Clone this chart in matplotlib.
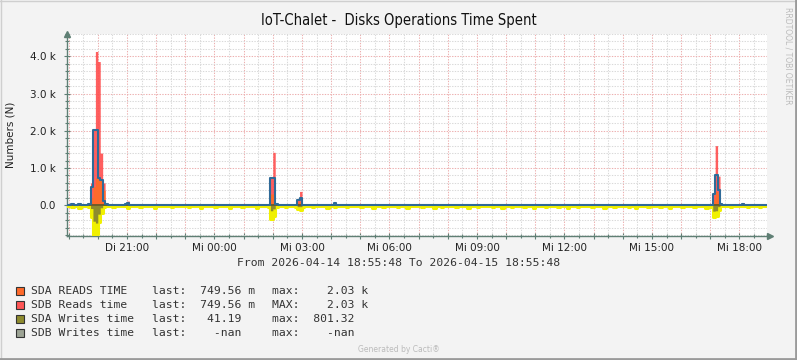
import numpy as np
import matplotlib.pyplot as plt
from matplotlib.patches import Rectangle
from matplotlib.lines import Line2D
from matplotlib.ticker import FixedLocator, FixedFormatter, MultipleLocator, FuncFormatter

# 5 minute samples, first one starts at 18:55 (graph starts 18:55:48)
n_samples = 288
step_h = 5 / 60.0
first_h = -0.8 / 60.0

# reads: only the non-zero samples (sample index -> value), rest is 0
read_idx = [2, 5, 9, 10, 11, 12, 13, 14, 15, 16, 24, 25, 84, 85, 86, 95, 96, 110, 266, 267, 268, 269, 270, 278]
sda_reads_line = [30, 30, 40, 500, 2030, 2030, 740, 690, 120, 20, 40, 60, 720, 720, 20, 150, 180, 50, 300, 820, 400, 30, 15, 40]
reads_stacked = [30, 30, 50, 600, 2060, 4130, 3860, 1400, 600, 50, 40, 110, 720, 1420, 40, 180, 370, 90, 300, 1600, 780, 50, 15, 70]
sda_reads_area = [10, 10, 20, 200, 500, 740, 740, 700, 400, 30, 20, 40, 300, 300, 10, 80, 100, 30, 150, 370, 300, 20, 5, 20]

# writes (drawn below zero)
sda_writes = [
    30, 25, 60, 25, 30, 70, 25, 30, 25, 60, 320, 801, 780, 450, 200, 40, 30, 25, 25, 60, 25, 30, 25, 30,
    25, 70, 30, 25, 25, 30, 60, 25, 25, 30, 25, 25, 70, 25, 30, 25, 25, 30, 25, 60, 25, 30, 25, 25,
    30, 25, 60, 25, 25, 30, 25, 70, 25, 30, 25, 25, 30, 60, 25, 25, 30, 25, 25, 70, 25, 30, 25, 25,
    60, 25, 30, 25, 25, 30, 70, 25, 25, 30, 25, 50, 360, 300, 40, 25, 30, 25, 60, 25, 25, 30, 60, 100,
    120, 40, 25, 30, 25, 60, 25, 30, 25, 25, 30, 70, 25, 30, 60, 25, 30, 25, 25, 60, 25, 30, 25, 25,
    30, 60, 25, 25, 30, 25, 70, 25, 30, 25, 60, 25, 25, 30, 25, 25, 60, 25, 30, 25, 70, 25, 25, 30,
    25, 25, 60, 30, 25, 25, 30, 70, 25, 25, 60, 25, 30, 25, 25, 30, 60, 25, 25, 30, 25, 70, 25, 30,
    25, 60, 25, 25, 30, 25, 25, 60, 30, 25, 25, 70, 25, 30, 25, 60, 25, 25, 30, 25, 60, 25, 30, 25,
    70, 25, 25, 30, 25, 60, 25, 30, 25, 25, 60, 25, 30, 25, 70, 25, 25, 30, 60, 25, 25, 30, 25, 25,
    60, 25, 30, 25, 25, 70, 25, 30, 25, 60, 25, 25, 30, 25, 25, 60, 25, 30, 70, 25, 25, 30, 25, 60,
    25, 30, 25, 25, 60, 25, 30, 25, 70, 25, 25, 30, 25, 60, 25, 25, 30, 25, 60, 25, 30, 25, 25, 70,
    25, 50, 330, 300, 120, 30, 25, 30, 25, 60, 25, 30, 25, 25, 30, 25, 60, 25, 30, 25, 25, 60, 25, 30,
]
writes_idx = [10, 11, 12, 13, 14, 84, 85, 95, 96, 266, 267, 268]
writes_avg = [90, 430, 480, 240, 70, 150, 100, 40, 40, 160, 150, 40]

# 19:00 is 0.07 h after the start
hour_ticks = np.arange(0.07, 24, 1.0)
half_ticks = np.arange(0.57, 24, 1.0)
tick_names = ['', '', 'Di 21:00', '', '', 'Mi 00:00', '', '', 'Mi 03:00', '', '', 'Mi 06:00',
              '', '', 'Mi 09:00', '', '', 'Mi 12:00', '', '', 'Mi 15:00', '', '', 'Mi 18:00']

legend_names = ['SDA READS TIME', 'SDB Reads time', 'SDA Writes time', 'SDB Writes time']
legend_last = ['last:  749.56 m', 'last:  749.56 m', 'last:   41.19', 'last:    -nan']
legend_max = ['max:    2.03 k', 'MAX:    2.03 k', 'max:  801.32', 'max:    -nan']
legend_colors = ['#FF6A2A', '#FF5656', '#8E8B2E', '#9CA394']


def spread(idx, vals):
    a = np.zeros(n_samples)
    a[idx] = vals
    return a


t = first_h + np.arange(n_samples + 1) * step_h
blue = spread(read_idx, sda_reads_line)
red = spread(read_idx, reads_stacked)
orange = spread(read_idx, sda_reads_area)
wr = -np.array(sda_writes, dtype=float)
olive = -spread(writes_idx, writes_avg)


def ext(a):
    return np.append(a, a[-1])


W, H = 797, 360
fig = plt.figure(figsize=(W / 100, H / 100), dpi=100)
fig.patch.set_facecolor('#F3F3F3')
ax = fig.add_axes([66.6 / W, 1 - 236 / H, 700 / W, 202 / H])
ax.set_facecolor('white')
ax.set_xlim(0, 24)
ax.set_ylim(-828, 4600)

ax.fill_between(t, 0, ext(red), step='post', color='#FF4D4D', alpha=0.9, lw=0, zorder=3)
ax.fill_between(t, 0, ext(orange), step='post', color='#FF6A2A', lw=0, zorder=4)
ax.plot(t, ext(blue), drawstyle='steps-post', color='#2F6A98', lw=1.5, zorder=5)
ax.fill_between(t, 0, ext(wr), step='post', color='#F0F000', lw=0, zorder=3)
ax.plot(t, ext(wr), drawstyle='steps-post', color='#F0F000', lw=2.2, zorder=3)
ax.fill_between(t, 0, ext(olive), step='post', color='#8E8B2E', lw=0, zorder=4)
ax.axhline(0, color='#5A5A26', lw=1.2, zorder=4.5)

# grid
ax.xaxis.set_major_locator(FixedLocator(hour_ticks))
ax.xaxis.set_major_formatter(FixedFormatter(tick_names))
ax.xaxis.set_minor_locator(FixedLocator(half_ticks))
ax.yaxis.set_major_locator(MultipleLocator(1000))
ax.yaxis.set_minor_locator(MultipleLocator(200))
ax.yaxis.set_major_formatter(FuncFormatter(lambda v, p: '0.0' if v == 0 else '%.1f k' % (v / 1000)))
ax.grid(which='major', color='#EDB0B0', lw=0.75, ls=(0, (1.3, 1.3)), zorder=1)
ax.grid(which='minor', color='#D9D9D9', lw=0.75, ls=(0, (1.3, 1.3)), zorder=1)
ax.set_axisbelow(True)

axis_col = '#5F7F74'
for s in ['top', 'right']:
    ax.spines[s].set_visible(False)
for s in ['left', 'bottom']:
    ax.spines[s].set_color(axis_col)
    ax.spines[s].set_linewidth(1.0)
ax.tick_params(which='major', direction='inout', length=4, width=0.8, color=axis_col,
               labelsize=7.5, labelcolor='#222222', pad=3)
ax.tick_params(which='minor', direction='inout', length=3, width=0.8, color=axis_col)
ax.tick_params(axis='y', pad=6)
ax.plot([0], [1.0], marker='^', color=axis_col, ms=4, transform=ax.transAxes, clip_on=False)
ax.plot([1.005], [0], marker='>', color=axis_col, ms=4, transform=ax.transAxes, clip_on=False)

fig.text(0.5, 1 - 21 / H, 'IoT-Chalet -  Disks Operations Time Spent', ha='center', va='center',
         fontsize=10.5, fontstretch='condensed', color='#111111')
fig.text(11 / W, 1 - 135 / H, 'Numbers (N)', rotation=90, ha='center', va='center',
         fontsize=7.5, color='#222222')
fig.text(0.5, 1 - 263 / H, 'From 2026-04-14 18:55:48 To 2026-04-15 18:55:48', ha='center', va='center',
         family='DejaVu Sans Mono', fontsize=8.2, color='#333333')

rows_y = [291, 304.5, 318.5, 332.5]
for name, la, mx, c, y in zip(legend_names, legend_last, legend_max, legend_colors, rows_y):
    fig.add_artist(Rectangle((15.5 / W, 1 - (y + 4) / H), 8 / W, 8 / H, transform=fig.transFigure,
                             facecolor=c, edgecolor='#333333', lw=0.8))
    fig.text(30.7 / W, 1 - y / H, name, va='center', family='DejaVu Sans Mono', fontsize=8.2, color='#333333')
    fig.text(151.7 / W, 1 - y / H, la, va='center', family='DejaVu Sans Mono', fontsize=8.2, color='#333333')
    fig.text(271.7 / W, 1 - y / H, mx, va='center', family='DejaVu Sans Mono', fontsize=8.2, color='#333333')

fig.text(0.5, 1 - 349 / H, 'Generated by Cacti\u00ae', ha='center', va='center', fontsize=5.5, color='#BBBBBB')
fig.text(788 / W, 1 - 56 / H, 'RRDTOOL / TOBI OETIKER', rotation=270, ha='center', va='center',
         fontsize=5.5, color='#BBBBBB')

# frame around the image
fig.add_artist(Line2D([0, 1], [1 - 0.5 / H, 1 - 0.5 / H], transform=fig.transFigure, color='#CFCFCF', lw=1))
fig.add_artist(Line2D([0.5 / W, 0.5 / W], [0, 1], transform=fig.transFigure, color='#CFCFCF', lw=1))
fig.add_artist(Line2D([0, 1], [1.5 / H, 1.5 / H], transform=fig.transFigure, color='#9A9A9A', lw=2))
fig.add_artist(Line2D([1 - 1.5 / W, 1 - 1.5 / W], [0, 1], transform=fig.transFigure, color='#9A9A9A', lw=2))

fig.savefig('out.png', dpi=100, facecolor=fig.get_facecolor())
